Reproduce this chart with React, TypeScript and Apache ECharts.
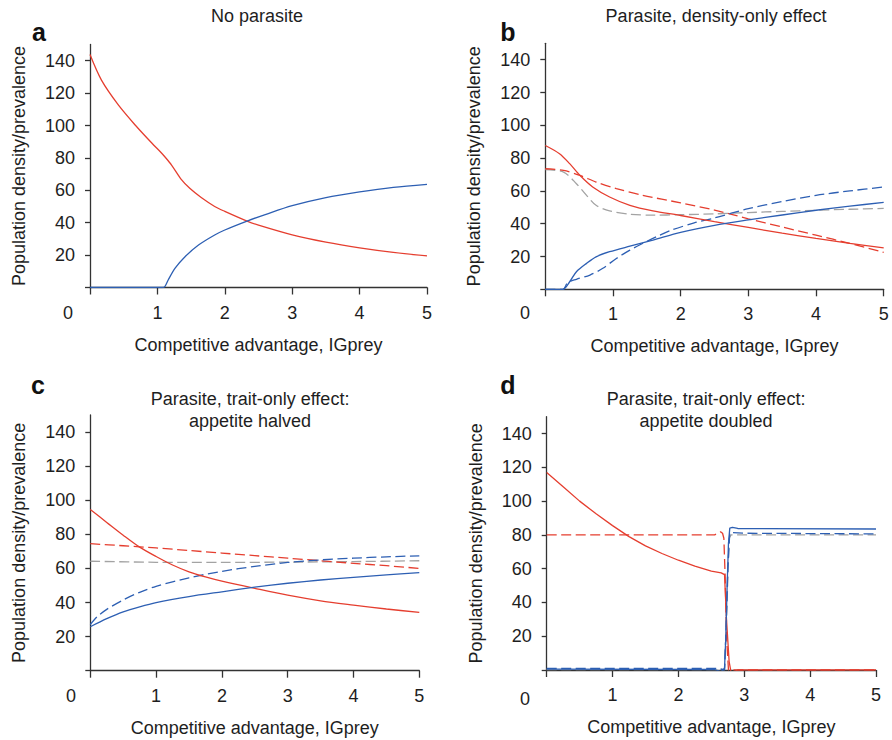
import React, { useEffect, useRef } from "react";
import * as echarts from "echarts";

const FONT = '"Liberation Sans", Arial, Helvetica, sans-serif';
const RED = "#e53e2f";
const BLUE = "#2d5fb3";
const GRAY = "#a3a3a3";
const AXIS = "#333333";
const TEXT = "#1e1e1e";

type P = [number, number][];

const Y_LABELS = [20, 40, 60, 80, 100, 120, 140];
const Y_TICKS = [0, 20, 40, 60, 80, 100, 120, 140];
const X_LABELS = [1, 2, 3, 4, 5];
const X_TICKS = [0, 1, 2, 3, 4, 5];
const X_NAME = "Competitive advantage, IGprey";
const Y_NAME = "Population density/prevalence";
const TITLES = ["No parasite", "Parasite, density-only effect", "Parasite, trait-only effect:\nappetite halved", "Parasite, trait-only effect:\nappetite doubled"];
const LETTERS = ["a", "b", "c", "d"];

// Panel a
const aRed: P = [[0, 143.8], [0.17, 128], [0.42, 112.7], [0.67, 100.3], [0.92, 89], [1.05, 83.5], [1.11, 80.7], [1.21, 75.6], [1.36, 66.4], [1.48, 61.2], [1.65, 55.5], [1.85, 50], [2, 47], [2.33, 41], [2.5, 38.5], [3, 32.5], [3.5, 28], [4, 24.5], [4.5, 21.7], [5, 19.5]];
const aBlue: P = [[0, 0], [1.07, 0], [1.11, 0.5], [1.16, 4.6], [1.26, 11.8], [1.41, 19], [1.61, 26.2], [1.85, 32.4], [2, 35.5], [2.33, 41], [2.6, 45], [3, 50.5], [3.5, 55.5], [4, 59], [4.5, 61.8], [5, 63.7]];

// Panel b
const bRed: P = [[0, 87.7], [0.21, 82.7], [0.36, 76.6], [0.51, 69.5], [0.7, 62.4], [0.95, 56.3], [1.25, 51.2], [1.59, 47.8], [2, 45], [2.5, 41.2], [3, 37.7], [3.5, 34.2], [4, 31], [4.5, 28], [5, 25.3]];
const bRedDash: P = [[0, 73.5], [0.27, 72.5], [0.51, 69.5], [0.75, 65.4], [1.05, 61.4], [1.44, 57.3], [2, 52.7], [2.5, 48.3], [3, 43], [3.5, 38], [4, 33], [4.5, 28], [5, 22.5]];
const bGray: P = [[0, 73], [0.27, 71.5], [0.46, 64.4], [0.61, 57.3], [0.75, 51.2], [0.95, 47.8], [1.25, 45.8], [1.59, 45.2], [2, 45.5], [2.5, 46], [3, 46.8], [3.5, 47.5], [4, 48.2], [4.5, 48.8], [5, 49.3]];
const bBlue: P = [[0, 0], [0.26, 0], [0.36, 4.6], [0.46, 10.7], [0.61, 15.8], [0.75, 19.8], [0.95, 22.9], [1.25, 26.3], [1.59, 30], [2, 34.7], [2.5, 39], [3, 42.3], [3.5, 45.3], [4, 48.2], [4.5, 50.7], [5, 53]];
const bBlueDash: P = [[0, 0], [0.26, 0], [0.33, 4], [0.46, 6.1], [0.66, 8.7], [0.85, 12.8], [1.05, 18.8], [1.25, 23.9], [1.44, 28], [1.64, 32], [1.86, 36], [2.2, 40.5], [2.5, 43.5], [3, 49.2], [3.5, 53.5], [4, 57.3], [4.5, 60], [5, 62.4]];

// Panel c
const cRed: P = [[0, 94.5], [0.25, 87], [0.5, 79.5], [0.75, 72.5], [1, 67], [1.25, 62], [1.5, 58], [1.75, 55], [2, 52.5], [2.5, 48.3], [3, 44.3], [3.5, 41], [4, 38.5], [4.5, 36.2], [5, 34.2]];
const cRedDash: P = [[0, 74.5], [0.5, 73.3], [1, 72], [1.5, 70.5], [2, 69], [2.5, 67.5], [3, 66], [3.5, 64.5], [4, 63], [4.5, 61.6], [5, 60]];
const cGray: P = [[0, 64.2], [1, 63.6], [2, 63.5], [3, 63.7], [4, 64], [5, 64.5]];
const cBlue: P = [[0, 25.8], [0.25, 30.5], [0.5, 34.5], [0.75, 37.5], [1, 40], [1.5, 43.5], [2, 46.3], [2.5, 49], [3, 51.3], [3.5, 53.2], [4, 54.8], [4.5, 56.2], [5, 57.5]];
const cBlueDash: P = [[0, 27], [0.1, 31.5], [0.25, 36], [0.5, 41.5], [0.75, 46], [1, 49.5], [1.5, 54.5], [2, 58.3], [2.5, 61.2], [3, 63.5], [3.5, 65], [4, 66], [4.5, 66.8], [5, 67.4]];

// Panel d
const dRed: P = [[0, 117], [0.25, 108.5], [0.5, 100], [0.75, 92.5], [1, 85.5], [1.25, 79], [1.5, 73.5], [1.75, 69], [2, 65], [2.25, 61.5], [2.5, 58.5], [2.65, 57.5], [2.7, 56.5], [2.73, 30], [2.77, 5], [2.8, -1.5], [2.85, -1], [2.9, 0], [5, 0]];
const dRedDash: P = [[0, 80], [2.55, 80], [2.6, 81], [2.64, 81.8], [2.67, 81], [2.69, 78], [2.71, 55], [2.73, 20], [2.76, 0], [5, 0]];
const dGray: P = [[0, 0.3], [2.7, 0.3], [2.73, 30], [2.77, 78], [2.8, 80], [5, 80]];
const dBlue: P = [[0, 0.5], [2.55, 0.3], [2.65, -1], [2.7, 1], [2.72, 20], [2.74, 50], [2.76, 75], [2.78, 84], [2.82, 84.5], [2.9, 83.8], [5, 83.5]];
const dBlueDash: P = [[0, 1], [2.6, 1], [2.7, 0], [2.72, 20], [2.75, 60], [2.78, 81.5], [3, 81], [4, 80.8], [5, 80.6]];

const GRIDS = [
  { left: 90, top: 44.5, width: 337, height: 243 },
  { left: 545.3, top: 43.3, width: 338.4, height: 246 },
  { left: 90.3, top: 415, width: 329, height: 255.7 },
  { left: 546.7, top: 416.7, width: 329.3, height: 253.3 },
];
const TITLE_POS = [[257, 16], [716, 16], [250, 410], [706, 410]];
const LETTER_POS = [[39, 32], [508, 32], [38, 385], [508, 385]];
const ZERO_POS = [[68, 313], [525, 313], [71, 696], [525, 699]];

function line(g: number, data: P, color: string, dashed: boolean, smooth: number | boolean) {
  return {
    type: "line",
    xAxisIndex: g,
    yAxisIndex: g,
    data,
    showSymbol: false,
    symbol: "none",
    smooth,
    z: dashed ? 3 : 4,
    lineStyle: { color, width: 1.3, type: dashed ? [10, 4.5] : "solid" },
  };
}

export default function App() {
  const ref = useRef<HTMLDivElement>(null);
  useEffect(() => {
    if (!ref.current) return;
    const chart = echarts.init(ref.current, undefined, { renderer: "svg" });
    const textStyle = { fontFamily: FONT, fontSize: 18, color: TEXT };
    const xAxis = GRIDS.map((_, i) => ({
      type: "value",
      gridIndex: i,
      min: 0,
      max: 5,
      interval: 1,
      axisLine: { show: true, lineStyle: { color: AXIS, width: 1.3 } },
      axisTick: { show: true, length: 7, customValues: X_TICKS, lineStyle: { color: AXIS, width: 1.3 } },
      axisLabel: { customValues: X_LABELS, margin: 16, ...textStyle },
      splitLine: { show: false },
      name: X_NAME,
      nameLocation: "middle",
      nameGap: 48,
      nameTextStyle: textStyle,
    }));
    const yAxis = GRIDS.map((_, i) => ({
      type: "value",
      gridIndex: i,
      min: 0,
      max: 150,
      axisLine: { show: true, lineStyle: { color: AXIS, width: 1.3 } },
      axisTick: { show: true, length: 5, customValues: Y_TICKS, lineStyle: { color: AXIS, width: 1.3 } },
      axisLabel: { customValues: Y_LABELS, margin: 15, ...textStyle },
      splitLine: { show: false },
      name: Y_NAME,
      nameLocation: "middle",
      nameRotate: 90,
      nameGap: 62,
      nameTextStyle: textStyle,
    }));
    const s = 0.3;
    const series = [
      line(0, aRed, RED, false, s),
      line(0, aBlue, BLUE, false, s),
      line(1, bGray, GRAY, true, s),
      line(1, bRedDash, RED, true, s),
      line(1, bBlueDash, BLUE, true, s),
      line(1, bRed, RED, false, s),
      line(1, bBlue, BLUE, false, s),
      line(2, cGray, GRAY, true, s),
      line(2, cRedDash, RED, true, s),
      line(2, cBlueDash, BLUE, true, s),
      line(2, cRed, RED, false, s),
      line(2, cBlue, BLUE, false, s),
      line(3, dGray, GRAY, true, false),
      line(3, dRedDash, RED, true, false),
      line(3, dBlueDash, BLUE, true, false),
      line(3, dRed, RED, false, false),
      line(3, dBlue, BLUE, false, false),
    ];
    const graphic: any[] = [];
    TITLES.forEach((t, i) => {
      graphic.push({
        type: "text",
        x: TITLE_POS[i][0],
        y: TITLE_POS[i][1],
        style: { text: t, fontFamily: FONT, fontSize: 18, lineHeight: 21.5, fill: TEXT, textAlign: "center", textVerticalAlign: "middle" },
      });
      graphic.push({
        type: "text",
        x: LETTER_POS[i][0],
        y: LETTER_POS[i][1],
        style: { text: LETTERS[i], fontFamily: FONT, fontSize: 25, fontWeight: "bold", fill: "#111", textAlign: "center", textVerticalAlign: "middle" },
      });
      graphic.push({
        type: "text",
        x: ZERO_POS[i][0],
        y: ZERO_POS[i][1],
        style: { text: "0", fontFamily: FONT, fontSize: 18, fill: TEXT, textAlign: "center", textVerticalAlign: "middle" },
      });
    });
    chart.setOption({
      animation: false,
      backgroundColor: "#ffffff",
      grid: GRIDS.map((g) => ({ ...g, containLabel: false })),
      xAxis,
      yAxis,
      series,
      graphic,
    } as any);
    return () => chart.dispose();
  }, []);
  return <div ref={ref} style={{ position: "fixed", left: 0, top: 0, width: 892, height: 740, background: "#fff" }} />;
}
